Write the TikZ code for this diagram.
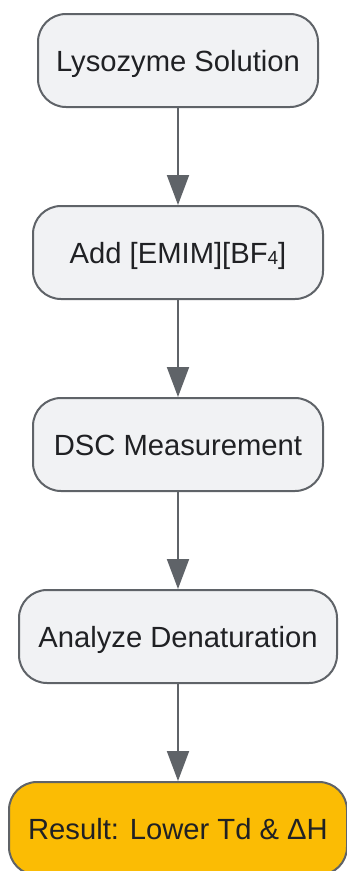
\documentclass[tikz,border=0pt]{standalone}
\usepackage{fontspec}
\setmainfont{Liberation Sans}
\usetikzlibrary{arrows.meta}
\definecolor{boxfill}{HTML}{F1F2F4}
\definecolor{boxline}{HTML}{5F6368}
\definecolor{txt}{HTML}{202124}
\definecolor{orangefill}{HTML}{FBBC04}
\tikzset{
  stepbox/.style={draw=boxline, line width=2pt, fill=boxfill, rounded corners=28pt,
    minimum height=93pt, text=txt, font=\fontsize{29.2}{34}\selectfont, inner sep=0pt,
    text height=21pt, text depth=0pt},
  resultbox/.style={stepbox, fill=orangefill},
  flow/.style={draw=boxline, line width=2pt, -{Triangle[width=22pt,length=30pt]}}
}
\begin{document}
\begin{tikzpicture}[x=1pt,y=-1pt]
\useasboundingbox (0,0) rectangle (346,871);
\node[stepbox, minimum width=280pt] (a) at (178,60.5) {Lysozyme Solution};
\node[stepbox, minimum width=290pt] (b) at (178,252.5) {Add [EMIM][BF\raisebox{-0.1ex}{\fontsize{19}{19}\selectfont 4}]};
\node[stepbox, minimum width=290pt] (c) at (178,444.5) {DSC Measurement};
\node[stepbox, minimum width=318pt] (d) at (178,636.5) {Analyze Denaturation};
\node[resultbox, minimum width=338pt] (e) at (178,828.5) {Result: Lower Td \& ΔH};
\draw[flow] (a) -- (b);
\draw[flow] (b) -- (c);
\draw[flow] (c) -- (d);
\draw[flow] (d) -- (e);
\end{tikzpicture}
\end{document}
